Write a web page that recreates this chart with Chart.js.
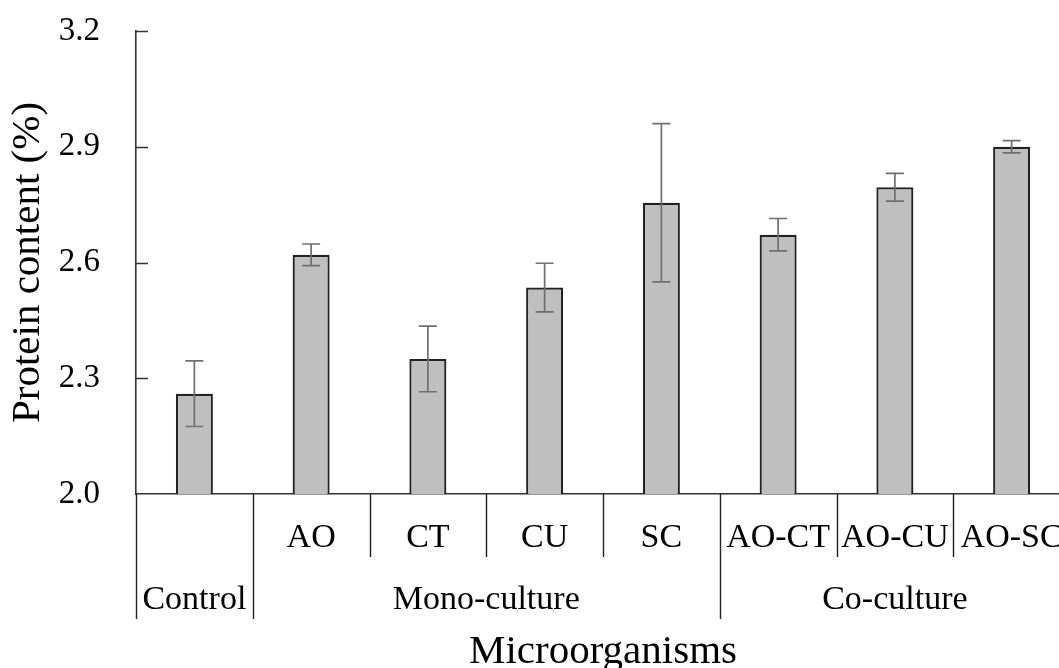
<!DOCTYPE html>
<html>
<head>
<meta charset="utf-8">
<script src="https://cdn.jsdelivr.net/npm/chart.js@4/dist/chart.umd.min.js"></script>
<style>
  html, body { margin: 0; padding: 0; background: #fff; overflow: hidden; }
  #wrap { width: 1059px; height: 668px; overflow: hidden; }
  canvas { display: block; }
</style>
</head>
<body>
<div id="wrap"><canvas id="chart" width="1070" height="668"></canvas></div>
<script>
// Treatments along the category axis
const categories = ['Control', 'AO', 'CT', 'CU', 'SC', 'AO-CT', 'AO-CU', 'AO-SC'];
// Second label row: treatment groups and how many categories each spans
const groupNames = ['Control', 'Mono-culture', 'Co-culture'];
const groupSizes = [1, 4, 3];
// Mean protein content (%) and its error (±)
const protein = [2.26, 2.62, 2.35, 2.535, 2.755, 2.672, 2.795, 2.90];
const proteinErr = [0.085, 0.028, 0.085, 0.063, 0.205, 0.042, 0.036, 0.016];
// Value axis
const yMin = 2.0, yMax = 3.2, yStep = 0.3;

const FONT = "'Liberation Serif', 'Times New Roman', serif";
Chart.defaults.font.family = FONT;
Chart.defaults.color = '#000';

const AXIS_COLOR = '#333';

// Error bars, inward tick marks and the two-row category labels
const decorations = {
  id: 'decorations',
  afterDatasetsDraw(chart) {
    const ctx = chart.ctx;
    const x = chart.scales.x, y = chart.scales.y;
    ctx.save();
    // error bars
    ctx.strokeStyle = '#6f6f6f';
    ctx.lineWidth = 1.7;
    protein.forEach((v, i) => {
      const cx = x.getPixelForValue(i);
      const top = y.getPixelForValue(v + proteinErr[i]);
      const bot = y.getPixelForValue(v - proteinErr[i]);
      ctx.beginPath();
      ctx.moveTo(cx, top); ctx.lineTo(cx, bot);
      ctx.moveTo(cx - 9, top); ctx.lineTo(cx + 9, top);
      ctx.moveTo(cx - 9, bot); ctx.lineTo(cx + 9, bot);
      ctx.stroke();
    });
    ctx.restore();
  },
  afterDraw(chart) {
    const ctx = chart.ctx;
    const x = chart.scales.x, y = chart.scales.y;
    const area = chart.chartArea;
    ctx.save();
    // inward ticks on the value axis
    ctx.strokeStyle = AXIS_COLOR;
    ctx.lineWidth = 1.5;
    y.ticks.forEach(t => {
      if (t.value <= yMin + 1e-9) return;
      const py = Math.round(y.getPixelForValue(t.value)) + 0.5;
      ctx.beginPath();
      ctx.moveTo(area.left, py); ctx.lineTo(area.left + 12, py);
      ctx.stroke();
    });

    // category separators and labels
    const n = categories.length;
    const step = x.width / n;
    const edge = k => x.left + k * step;
    const base = area.bottom;
    const shortEnd = base + 63;
    const longEnd = base + 125;
    const groupStarts = [];
    let acc = 0;
    groupSizes.forEach(s => { groupStarts.push(acc); acc += s; });
    groupStarts.push(n);

    ctx.strokeStyle = '#222';
    ctx.lineWidth = 1.4;
    for (let k = 0; k <= n; k++) {
      const isGroupEdge = groupStarts.includes(k);
      const px = Math.round(edge(k)) + 0.5;
      ctx.beginPath();
      ctx.moveTo(px, base);
      ctx.lineTo(px, isGroupEdge ? longEnd : shortEnd);
      ctx.stroke();
    }

    ctx.fillStyle = '#000';
    ctx.textAlign = 'center';
    ctx.textBaseline = 'alphabetic';
    ctx.font = '34px ' + FONT;
    // first row: individual treatments (single-member groups use the group row only)
    groupSizes.forEach((s, g) => {
      if (s < 2) return;
      for (let i = groupStarts[g]; i < groupStarts[g] + s; i++) {
        ctx.fillText(categories[i], x.getPixelForValue(i), base + 53);
      }
    });
    // second row: group names
    groupNames.forEach((name, g) => {
      const cx = (edge(groupStarts[g]) + edge(groupStarts[g + 1])) / 2;
      ctx.fillText(name, cx, base + 115);
    });
    // axis title
    ctx.font = '41px ' + FONT;
    ctx.fillText('Microorganisms', (x.left + x.right) / 2, base + 169);
    ctx.restore();
  }
};

new Chart(document.getElementById('chart'), {
  type: 'bar',
  data: {
    labels: categories,
    datasets: [{
      label: 'Protein content (%)',
      data: protein,
      backgroundColor: '#bfbfbf',
      borderColor: '#222',
      borderWidth: 2.2,
      borderSkipped: 'bottom',
      categoryPercentage: 1.0,
      barPercentage: 0.317
    }]
  },
  options: {
    responsive: false,
    animation: false,
    events: [],
    layout: { padding: { top: 31, right: 0, bottom: 0, left: 0 } },
    plugins: { legend: { display: false }, tooltip: { enabled: false } },
    scales: {
      x: {
        offset: true,
        grid: { display: false },
        border: { display: true, color: AXIS_COLOR, width: 1.6 },
        ticks: { display: false },
        afterFit: s => { s.height = 174; s.paddingLeft = 0; s.paddingRight = 0; }
      },
      y: {
        min: yMin,
        max: yMax,
        grid: { display: false, drawTicks: false },
        border: { display: true, color: AXIS_COLOR, width: 1.6 },
        ticks: {
          stepSize: yStep,
          padding: 36,
          color: '#000',
          font: { size: 33, family: FONT },
          callback: v => Number(v).toFixed(1)
        },
        title: {
          display: true,
          text: 'Protein content (%)',
          color: '#000',
          font: { size: 41, family: FONT },
          padding: { top: 4, bottom: 0 }
        },
        afterFit: s => { s.width = 136; s.paddingTop = 0; s.paddingBottom = 0; }
      }
    }
  },
  plugins: [decorations]
});
</script>
</body>
</html>
